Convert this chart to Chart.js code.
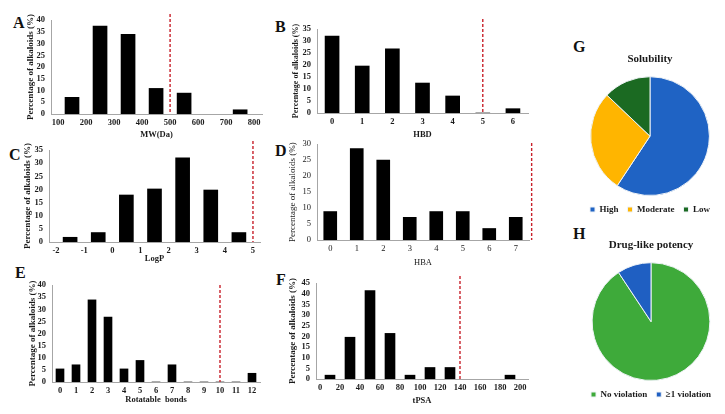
<!DOCTYPE html>
<html>
<head>
<meta charset="utf-8">
<script src="https://cdn.jsdelivr.net/npm/chart.js@4.4.1/dist/chart.umd.min.js"></script>
<style>
    html, body { margin: 0; padding: 0; background: #fff; }
    body { width: 725px; height: 414px; position: relative; overflow: hidden; font-family: "Liberation Serif", "DejaVu Serif", serif; }
    canvas { position: absolute; }
    .tag { position: absolute; font-size: 16px; font-weight: bold; line-height: 1; color: #111; }
</style>
</head>
<body>
<div class="tag" style="left:13px;top:15px">A</div>
<div class="tag" style="left:275px;top:19px">B</div>
<div class="tag" style="left:9px;top:147px">C</div>
<div class="tag" style="left:275px;top:143px">D</div>
<div class="tag" style="left:15px;top:265px">E</div>
<div class="tag" style="left:276px;top:272px">F</div>
<div class="tag" style="left:573px;top:39px">G</div>
<div class="tag" style="left:573px;top:226px">H</div>

<canvas id="chart-a"></canvas>
<canvas id="chart-b"></canvas>
<canvas id="chart-c"></canvas>
<canvas id="chart-d"></canvas>
<canvas id="chart-e"></canvas>
<canvas id="chart-f"></canvas>
<canvas id="chart-g"></canvas>
<canvas id="chart-h"></canvas>

<script>
// A - molecular weight
const mwTicks = [100, 200, 300, 400, 500, 600, 700, 800];
const mwBins = [150, 250, 350, 450, 550, 750];
const mwPct = [7.1, 37.5, 33.9, 10.9, 8.9, 1.8];

// B - H-bond donors
const hbdLabels = ['0', '1', '2', '3', '4', '5', '6'];
const hbdPct = [32.1, 19.6, 26.8, 12.5, 7.1, 0, 1.8];

// C - LogP
const logpTicks = [-2, -1, 0, 1, 2, 3, 4, 5];
const logpBins = [-1.5, -0.5, 0.5, 1.5, 2.5, 3.5, 4.5];
const logpPct = [1.8, 3.6, 17.9, 20.2, 32.1, 19.8, 3.6];

// D - H-bond acceptors
const hbaLabels = ['0', '1', '2', '3', '4', '5', '6', '7'];
const hbaPct = [8.9, 28.6, 25, 7.1, 8.9, 8.9, 3.6, 7.1];

// E - rotatable bonds
const rotLabels = ['0', '1', '2', '3', '4', '5', '6', '7', '8', '9', '10', '11', '12'];
const rotPct = [5.4, 7.1, 33.9, 26.8, 5.4, 8.9, 0, 7.1, 0, 0, 0, 0, 3.6];

// F - tPSA
const tpsaTicks = [0, 20, 40, 60, 80, 100, 120, 140, 160, 180, 200];
const tpsaBins = [10, 30, 50, 70, 90, 110, 130, 190];
const tpsaPct = [1.8, 19.6, 41.5, 21.4, 1.8, 5.4, 5.4, 1.8];

// y axis maxima
const yMax = { a: 40, b: 35, c: 35, d: 30, e: 40, f: 45 };

// rule-of-five style cutoffs (red dashed)
const cutoff = { a: 500, b: 5, c: 5, d: 7.6, e: 10, f: 140 };

// G / H pies
const solLabels = ['High', 'Moderate', 'Low'];
const solPct = [59.3, 27.8, 12.9];
const drugLabels = ['No violation', '\u22651 violation'];
const drugPct = [90.7, 9.3];

const SERIF = "'Liberation Serif', 'Times New Roman', serif";
const INK = '#1a1a1a';
const YTITLE = 'Percentage of alkaloids (%)';

// draws the dashed cutoff line at a value of the x scale
const cutoffLine = {
    id: 'cutoffLine',
    afterDatasetsDraw(chart, args, opts) {
        if (opts.value == null) return;
        const x = chart.scales.x.getPixelForValue(opts.value);
        const { top, bottom } = chart.chartArea;
        const ctx = chart.ctx;
        ctx.save();
        ctx.strokeStyle = '#c8202a';
        ctx.lineWidth = 1.4;
        ctx.setLineDash([3, 2]);
        ctx.beginPath();
        ctx.moveTo(x, top - (opts.rise || 0));
        ctx.lineTo(x, bottom);
        ctx.stroke();
        ctx.restore();
    }
};

function barPanel(id, p) {
    const yw = 30, padTop = 10, padRight = 4;
    const cv = document.getElementById(id);
    const w = (p.R - p.L) + yw + padRight;
    const h = padTop + (p.B - p.T) + p.xh;
    cv.width = w; cv.height = h;
    cv.style.left = (p.L - yw) + 'px';
    cv.style.top = (p.T - padTop) + 'px';

    const weight = p.bold ? 'bold' : 'normal';
    const tickFont = { family: SERIF, size: 8.5, weight };
    const titleFont = { family: SERIF, size: p.ytSize || 9, weight };

    const x = {
        grid: { display: false, drawTicks: false },
        border: { display: true, color: '#a6a6a6', width: 1 },
        ticks: { font: tickFont, color: INK, padding: 4, autoSkip: false, maxRotation: 0 },
        title: { display: true, text: p.xTitle, font: { family: SERIF, size: 8.5, weight }, color: INK, padding: { top: 0, bottom: 0 } },
        afterFit: s => { s.height = p.xh; }
    };
    if (p.linear) {
        Object.assign(x, {
            type: 'linear', min: p.min, max: p.max, offset: false,
            afterBuildTicks: s => { s.ticks = p.ticks.map(v => ({ value: v })); }
        });
    } else {
        x.type = 'category';
    }

    const data = p.linear
        ? p.bins.map((v, i) => ({ x: v, y: p.values[i] }))
        : p.values;

    return new Chart(cv, {
        type: 'bar',
        data: {
            labels: p.linear ? undefined : p.labels,
            datasets: [{ data, backgroundColor: '#000', barThickness: p.bar }]
        },
        options: {
            responsive: false,
            animation: false,
            layout: { padding: { top: padTop, right: padRight, left: 0, bottom: 0 } },
            plugins: {
                legend: { display: false },
                tooltip: { enabled: false },
                cutoffLine: { value: p.cut, rise: p.rise }
            },
            scales: {
                x,
                y: {
                    min: 0, max: p.yMax,
                    grid: { display: false, drawTicks: false },
                    border: { display: true, color: '#a6a6a6', width: 1 },
                    ticks: { stepSize: 5, autoSkip: false, font: tickFont, color: INK, padding: 6 },
                    title: { display: true, text: YTITLE, font: titleFont, color: INK, padding: { top: p.ytPad, bottom: 0 } },
                    afterFit: s => { s.width = yw; }
                }
            }
        },
        plugins: [cutoffLine]
    });
}

barPanel('chart-a', {
    L: 51, R: 262, T: 19, B: 114, xh: 26, bold: true, ytPad: 4.5,
    linear: true, min: 75, max: 828, ticks: mwTicks, bins: mwBins, values: mwPct,
    bar: 14, yMax: yMax.a, cut: cutoff.a, rise: 6, xTitle: 'MW(Da)'
});
barPanel('chart-b', {
    L: 317, R: 528, T: 28, B: 113, xh: 27, bold: true, ytPad: 4, ytSize: 8,
    labels: hbdLabels, values: hbdPct,
    bar: 14, yMax: yMax.b, cut: cutoff.b, rise: 15, xTitle: 'HBD'
});
barPanel('chart-c', {
    L: 49, R: 260, T: 149, B: 242, xh: 22, bold: true, ytPad: 3.5,
    linear: true, min: -2.25, max: 5.25, ticks: logpTicks, bins: logpBins, values: logpPct,
    bar: 14, yMax: yMax.c, cut: cutoff.c, rise: 9, xTitle: 'LogP'
});
barPanel('chart-d', {
    L: 317, R: 529, T: 143, B: 240, xh: 28, bold: false, ytPad: 0.5,
    labels: hbaLabels, values: hbaPct,
    bar: 13, yMax: yMax.d, cut: cutoff.d, rise: 1, xTitle: 'HBA'
});
barPanel('chart-e', {
    L: 52, R: 260, T: 284, B: 382, xh: 23, bold: true, ytPad: 5.5,
    labels: rotLabels, values: rotPct,
    bar: 8, yMax: yMax.e, cut: cutoff.e, rise: 0, xTitle: 'Rotatable  bonds'
});
barPanel('chart-f', {
    L: 316, R: 528, T: 282, B: 379, xh: 27, bold: true, ytPad: 1.5,
    linear: true, min: -4, max: 208, ticks: tpsaTicks, bins: tpsaBins, values: tpsaPct,
    bar: 10, yMax: yMax.f, cut: cutoff.f, rise: 7, xTitle: 'tPSA'
});

function piePanel(id, left, top, height, title, labels, values, colors) {
    const cv = document.getElementById(id);
    cv.width = 150; cv.height = height;
    cv.style.left = left + 'px';
    cv.style.top = top + 'px';
    return new Chart(cv, {
        type: 'pie',
        data: {
            labels,
            datasets: [{ data: values, backgroundColor: colors, borderColor: '#eef2f6', borderWidth: 1 }]
        },
        options: {
            responsive: false,
            animation: false,
            layout: { padding: 0 },
            plugins: {
                title: {
                    display: true, text: title, color: INK,
                    font: { family: SERIF, size: 11, weight: 'bold' },
                    padding: { top: 3, bottom: 10 }
                },
                legend: {
                    position: 'bottom',
                    labels: {
                        boxWidth: 5, boxHeight: 5, padding: 9, color: INK,
                        font: { family: SERIF, size: 9, weight: 'bold' }
                    }
                },
                tooltip: { enabled: false }
            }
        }
    });
}

piePanel('chart-g', 575, 50, 174, 'Solubility', solLabels, solPct, ['#1f63c4', '#ffb500', '#1b6a22']);
piePanel('chart-h', 576, 236, 173, 'Drug-like potency', drugLabels, drugPct, ['#3eaa3a', '#1f5fc2']);
</script>
</body>
</html>
